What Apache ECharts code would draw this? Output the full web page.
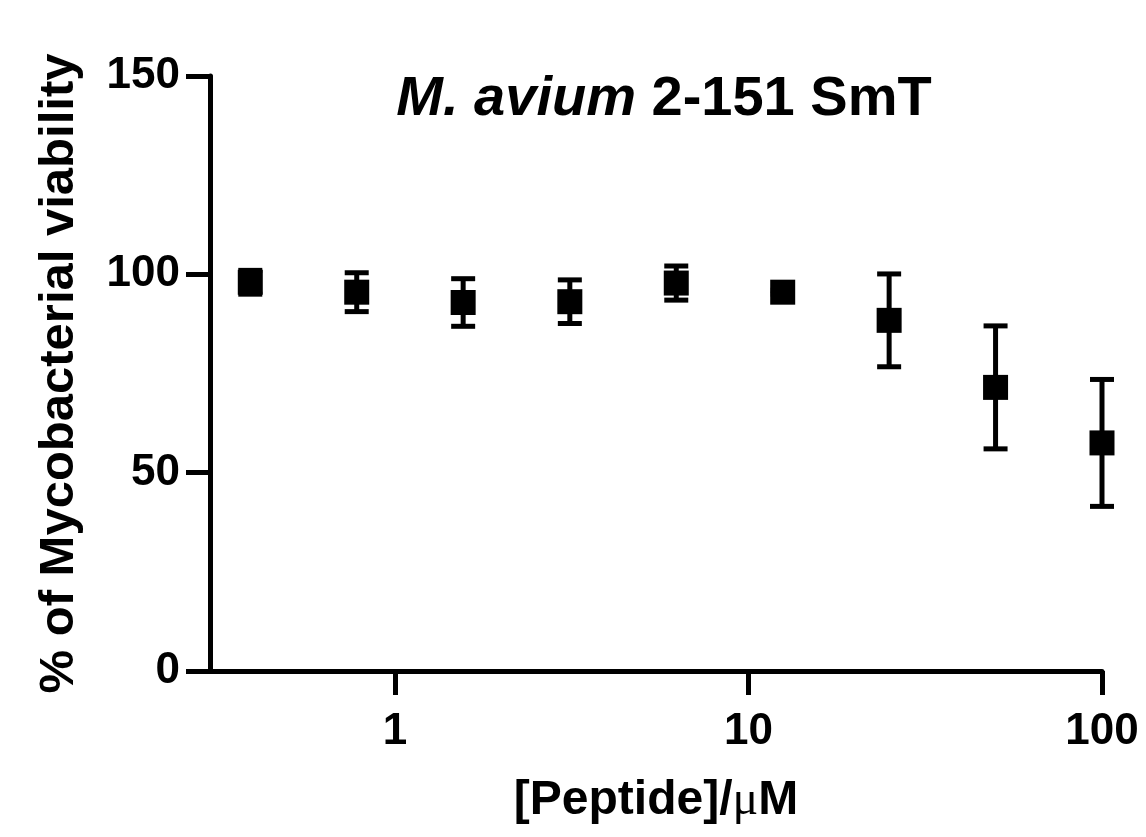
<!DOCTYPE html>
<html>
<head>
<meta charset="utf-8">
<script src="https://cdn.jsdelivr.net/npm/echarts@6/dist/echarts.min.js"></script>
<style>
  html, body { margin: 0; padding: 0; background: #fff; }
  #chart { width: 1146px; height: 837px; }
</style>
</head>
<body>
<div id="chart"></div>
<script>
// peptide concentrations (uM), two-fold dilutions
const conc = [0.39, 0.78, 1.56, 3.125, 6.25, 12.5, 25, 50, 100];
// mean % viability
const viability = [98.0, 95.5, 92.9, 93.1, 97.8, 95.5, 88.4, 71.5, 57.5];
// standard deviation
const sd = [3.0, 4.9, 6.0, 5.5, 4.3, 0.5, 11.7, 15.5, 16.0];
const xTicks = [1, 10, 100];
const yTicks = [0, 50, 100, 150];

const font = "'Liberation Sans', Arial, Helvetica, sans-serif";

const points = conc.map((c, i) => [c, viability[i]]);
const bars = conc.map((c, i) => [c, viability[i] - sd[i], viability[i] + sd[i]]);

const chart = echarts.init(document.getElementById('chart'));

chart.setOption({
  animation: false,
  backgroundColor: '#fff',
  title: {
    text: '{i|M. avium }{b|2-151 SmT}',
    left: 659,
    top: 67,
    textAlign: 'center',
    textStyle: {
      rich: {
        i: { fontFamily: font, fontSize: 56, fontWeight: 'bold', fontStyle: 'italic', color: '#000' },
        b: { fontFamily: font, fontSize: 56, fontWeight: 'bold', color: '#000' }
      }
    }
  },
  grid: { left: 210, right: 44, top: 76, bottom: 166 },
  xAxis: {
    type: 'log',
    min: 0.3,
    max: 100,
    name: '{t|[Peptide]/}{u|\u03bc}{t|M}',
    nameLocation: 'middle',
    nameGap: 106,
    nameTextStyle: {
      rich: {
        t: { fontFamily: font, fontSize: 48, fontWeight: 'bold', color: '#000' },
        u: { fontFamily: "'Liberation Serif', 'DejaVu Serif', serif", fontSize: 48, color: '#000' }
      }
    },
    axisLine: { lineStyle: { color: '#000', width: 5 } },
    axisTick: { length: 24, lineStyle: { color: '#000', width: 5 }, customValues: xTicks },
    axisLabel: {
      customValues: xTicks,
      margin: 39,
      fontFamily: font, fontSize: 44, fontWeight: 'bold', color: '#000'
    },
    splitLine: { show: false }
  },
  yAxis: {
    type: 'value',
    min: 0,
    max: 150,
    interval: 50,
    name: '% of Mycobacterial viability',
    nameLocation: 'middle',
    nameGap: 126,
    nameTextStyle: { fontFamily: font, fontSize: 49, fontWeight: 'bold', color: '#000' },
    axisLine: { show: true, lineStyle: { color: '#000', width: 5 } },
    axisTick: { show: true, length: 24, lineStyle: { color: '#000', width: 5 } },
    axisLabel: {
      margin: 30,
      fontFamily: font, fontSize: 44, fontWeight: 'bold', color: '#000',
      formatter: v => yTicks.includes(v) ? String(v) : ''
    },
    splitLine: { show: false }
  },
  series: [
    {
      type: 'custom',
      data: bars,
      z: 2,
      renderItem: function (params, api) {
        const x = api.value(0);
        const lo = api.coord([x, api.value(1)]);
        const hi = api.coord([x, api.value(2)]);
        const cap = 12;
        const style = { stroke: '#000', lineWidth: 5 };
        return {
          type: 'group',
          children: [
            { type: 'line', shape: { x1: lo[0], y1: lo[1], x2: hi[0], y2: hi[1] }, style: style },
            { type: 'line', shape: { x1: lo[0] - cap, y1: lo[1], x2: lo[0] + cap, y2: lo[1] }, style: style },
            { type: 'line', shape: { x1: hi[0] - cap, y1: hi[1], x2: hi[0] + cap, y2: hi[1] }, style: style }
          ]
        };
      }
    },
    {
      type: 'scatter',
      data: points,
      symbol: 'rect',
      symbolSize: 25,
      z: 3,
      itemStyle: { color: '#000', opacity: 1 }
    }
  ]
});
</script>
</body>
</html>
